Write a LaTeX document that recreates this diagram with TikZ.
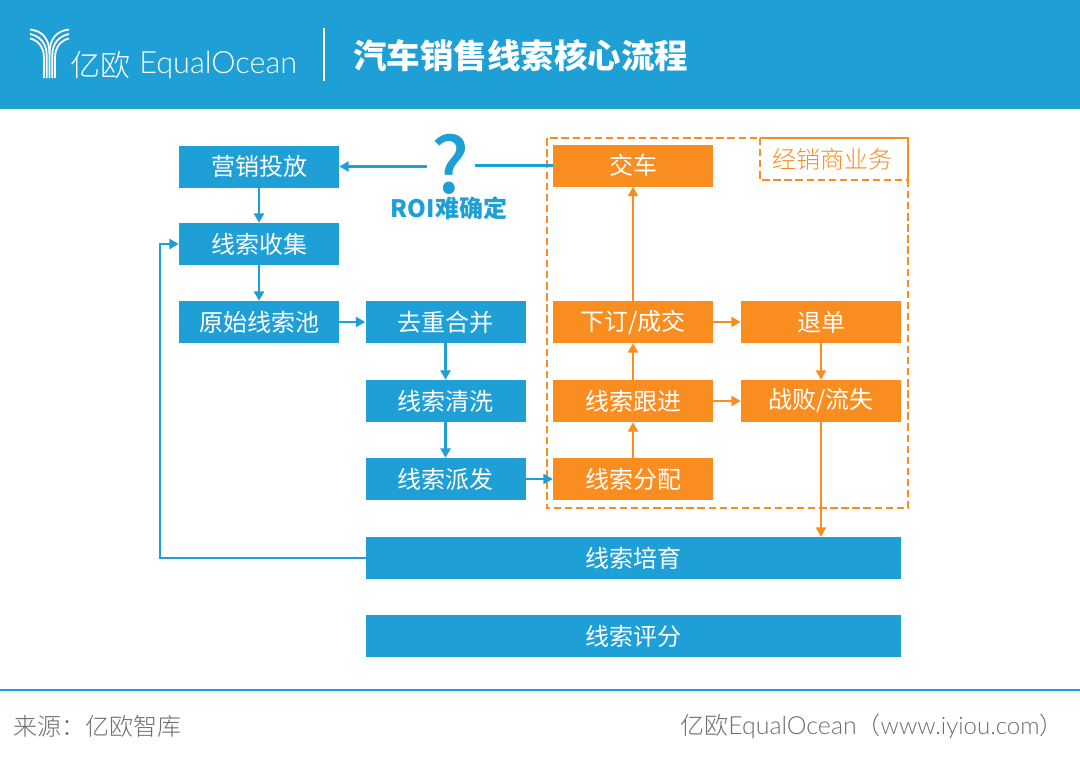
\documentclass[tikz,border=0pt]{standalone}
\usepackage{fontspec}
\setmainfont{Noto Sans CJK SC}
\newfontfamily\latinlight{Lato Light}
\newfontfamily\cjklight{Noto Sans CJK SC Light}
\newfontfamily\cjkmedium{Noto Sans CJK SC Medium}
\usetikzlibrary{arrows.meta}
\definecolor{eqblue}{HTML}{1E9FD5}
\definecolor{eqorange}{HTML}{F98D20}
\definecolor{footgray}{HTML}{6E6E6E}
\tikzset{
  x=0.75pt,y=-0.75pt,
  blueflow/.style={draw=none,fill=eqblue,text=white,minimum height=31.5pt,inner sep=0pt,font=\fontsize{18}{20}\selectfont,anchor=center},
  bluebox/.style={blueflow,minimum width=120pt},
  widebox/.style={blueflow,minimum width=401.25pt},
  orangebox/.style={blueflow,fill=eqorange,minimum width=120pt},
  blueline/.style={draw=eqblue,line width=1.7pt,-{Triangle[length=7pt,width=7.5pt]}},
  orangeline/.style={draw=eqorange,line width=1.7pt,-{Triangle[length=7pt,width=7.5pt]}},
  dashbox/.style={draw=eqorange,line width=1.8pt,dash pattern=on 5.5pt off 2.8pt},
  logoline/.style={draw=white,line width=1.35pt},
}
\begin{document}
\begin{tikzpicture}
\useasboundingbox (0,0) rectangle (1080,760);
\fill[white] (0,0) rectangle (1080,760);
\fill[eqblue] (0,0) rectangle (1080,109);
% logo
\draw[logoline] (30,29.5) .. controls (42,31) and (49.5,38) .. (49.5,54) -- (49.5,78);
\draw[logoline] (30,34) .. controls (39,36) and (46.75,42) .. (46.75,56) -- (46.75,78);
\draw[logoline] (30,38.5) .. controls (37,40) and (44,46) .. (44,58) -- (44,78);
\draw[logoline] (69,29.5) .. controls (57,31) and (49.5,38) .. (49.5,54);
\draw[logoline] (69,34) .. controls (60,36) and (52.25,42) .. (52.25,56) -- (52.25,78);
\draw[logoline] (69,38.5) .. controls (62,40) and (55,46) .. (55,58) -- (55,78);
\node[text=white,anchor=west,inner sep=0pt,font=\cjklight\fontsize{22.5}{24}\selectfont] (logocn) at (70,65) {亿欧};
\node[text=white,anchor=west,inner sep=0pt,font=\latinlight\fontsize{23}{24}\selectfont] (logoen) at (139,65) {EqualOcean};
\draw[white,line width=1pt] (324,28) -- (324,81);
\node[text=white,anchor=west,inner sep=0pt,font=\bfseries\fontsize{25.1}{28}\selectfont] (title) at (353,56) {汽车销售线索核心流程};
% dealer frame
\draw[dashbox] (908,180) -- (908,508) -- (547,508) -- (547,138) -- (760,138);
\draw[dashbox] (760,138) -- (760,180) -- (908,180);
\draw[draw=eqorange,line width=1.8pt] (760,138) -- (908,138) -- (908,180);
\node[text=eqorange,inner sep=0pt,font=\cjklight\fontsize{18}{20}\selectfont] (dealer) at (832,159) {经销商业务};
% boxes
\node[bluebox] (yingxiao) at (259,166.5) {营销投放};
\node[bluebox] (shouji) at (259,244) {线索收集};
\node[bluebox] (yuanshi) at (259,322) {原始线索池};
\node[bluebox] (quchong) at (445.5,322) {去重合并};
\node[bluebox] (qingxi) at (445.5,401) {线索清洗};
\node[bluebox] (paifa) at (445.5,479) {线索派发};
\node[orangebox] (jiaoche) at (633,165.5) {交车};
\node[orangebox] (xiading) at (633,322) {下订/成交};
\node[orangebox] (genjin) at (633,401) {线索跟进};
\node[orangebox] (fenpei) at (633,479) {线索分配};
\node[orangebox] (tuidan) at (821,322) {退单};
\node[orangebox] (zhanbai) at (821,401) {战败/流失};
\node[widebox] (peiyu) at (633.5,558) {线索培育};
\node[widebox] (pingfen) at (633.5,636) {线索评分};
% question
\node[text=eqblue,inner sep=0pt,font=\cjkmedium\fontsize{58}{58}\selectfont,minimum width=35pt] (q) at (451,164) {?};
\node[text=eqblue,inner sep=0pt,font=\bfseries\fontsize{18}{20}\selectfont] (roi) at (449,208) {ROI难确定};
% connectors
\draw[draw=eqblue,line width=1.7pt] (jiaoche.west) -- (q.east |- jiaoche.west);
\draw[blueline] (q.west |- yingxiao.east) -- (yingxiao.east);
\draw[blueline] (yingxiao) -- (shouji);
\draw[blueline] (shouji) -- (yuanshi);
\draw[blueline] (yuanshi) -- (quchong);
\draw[blueline] (quchong) -- (qingxi);
\draw[blueline] (qingxi) -- (paifa);
\draw[blueline] (paifa) -- (fenpei);
\coordinate (loop) at (160,400);
\draw[blueline] (peiyu.west) -| (loop) |- (shouji.west);
\draw[orangeline] (fenpei) -- (genjin);
\draw[orangeline] (genjin) -- (xiading);
\draw[orangeline] (xiading) -- (jiaoche);
\draw[orangeline] (xiading) -- (tuidan);
\draw[orangeline] (genjin) -- (zhanbai);
\draw[orangeline] (tuidan) -- (zhanbai);
\draw[orangeline] (zhanbai.south) -- (zhanbai.south |- peiyu.north);
% footer
\draw[eqblue,line width=1.8pt] (0,690) -- (1080,690);
\node[text=footgray,anchor=west,inner sep=0pt,font=\cjklight\fontsize{18}{20}\selectfont] (src) at (13,726) {来源：亿欧智库};
\node[text=footgray,anchor=west,inner sep=0pt,font=\cjklight\fontsize{18}{20}\selectfont] (brand) at (680,726) {亿欧{\latinlight\fontsize{18.7}{20}\selectfont EqualOcean}（{\latinlight\fontsize{18}{20}\selectfont www.iyiou.com}）};
\end{tikzpicture}
\end{document}
